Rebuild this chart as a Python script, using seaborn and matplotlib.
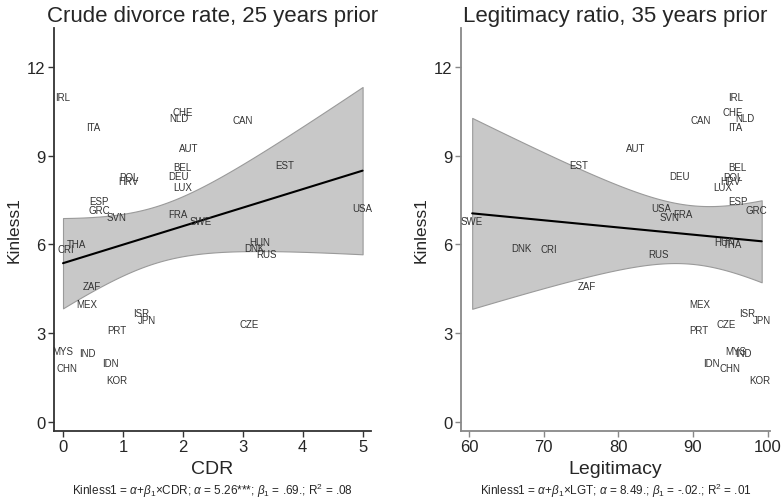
import numpy as np
import pandas as pd
import matplotlib
matplotlib.use("Agg")
import matplotlib.pyplot as plt
import seaborn as sns

sns.set_style("ticks")
plt.rcParams['font.family'] = ['Liberation Sans', 'DejaVu Sans']
plt.rcParams['mathtext.fontset'] = 'custom'
plt.rcParams['mathtext.rm'] = 'Liberation Sans'
plt.rcParams['mathtext.it'] = 'Liberation Sans:italic'

NARROW = ['Liberation Sans Narrow', 'Liberation Sans', 'DejaVu Sans']

# country codes
countries = ['IRL', 'ITA', 'CHE', 'NLD', 'CAN', 'AUT', 'BEL', 'DEU', 'POL', 'HRV',
             'LUX', 'EST', 'ESP', 'GRC', 'SVN', 'FRA', 'SWE', 'USA', 'HUN', 'DNK',
             'RUS', 'THA', 'CRI', 'ZAF', 'MEX', 'ISR', 'JPN', 'PRT', 'CZE', 'MYS',
             'IND', 'CHN', 'IDN', 'KOR']

kinless = [10.98, 9.97, 10.47, 10.27, 10.2, 9.26, 8.6, 8.31, 8.28, 8.14,
           7.94, 8.68, 7.47, 7.16, 6.93, 7.03, 6.79, 7.23, 6.08, 5.88,
           5.68, 6.0, 5.85, 4.6, 3.99, 3.68, 3.45, 3.11, 3.31, 2.4,
           2.33, 1.82, 1.99, 1.42]

cdr = [0.0, 0.5, 2.0, 1.93, 3.0, 2.1, 2.0, 1.92, 1.1, 1.1,
       2.0, 3.7, 0.6, 0.6, 0.9, 1.92, 2.3, 5.0, 3.28, 3.19,
       3.4, 0.23, 0.05, 0.48, 0.4, 1.3, 1.4, 0.9, 3.1, 0.0,
       0.4, 0.07, 0.79, 0.9]

legitimacy = [95.7, 95.7, 95.3, 96.9, 91.0, 82.3, 95.9, 88.2, 95.3, 95.0,
              94.0, 74.7, 96.0, 98.5, 86.9, 88.6, 60.4, 85.8, 94.2, 67.0,
              85.4, 95.3, 70.7, 75.8, 90.9, 97.3, 99.2, 90.8, 94.4, 95.7,
              96.7, 95.0, 92.5, 98.9]

df = pd.DataFrame({'country': countries, 'Kinless1': kinless,
                   'CDR': cdr, 'Legitimacy': legitimacy})


def fit_band(x, y, grid):
    """OLS fit with 95% confidence band for the mean (like Stata lfitci)"""
    x = np.asarray(x, float)
    y = np.asarray(y, float)
    n = len(x)
    b1, b0 = np.polyfit(x, y, 1)
    resid = y - (b0 + b1 * x)
    s = np.sqrt(np.sum(resid ** 2) / (n - 2))
    sxx = np.sum((x - x.mean()) ** 2)
    se = s * np.sqrt(1.0 / n + (grid - x.mean()) ** 2 / sxx)
    t = 2.037  # t(0.975, 32)
    yhat = b0 + b1 * grid
    return yhat - t * se, yhat + t * se


fig = plt.figure(figsize=(7.84, 5.02), dpi=100)
ax1 = fig.add_axes([0.0689, 0.1394, 0.4043, 0.803])
ax2 = fig.add_axes([0.588, 0.1394, 0.394, 0.803])

panels = [
    (ax1, 'CDR', 'Crude divorce rate, 25 years prior', (-0.15, 5.14), [0, 1, 2, 3, 4, 5], '#333333',
     r'Kinless1 = $\alpha$+$\beta_1$×CDR; $\alpha$ = 5.26***; $\beta_1$ = .69.; R$^2$ = .08'),
    (ax2, 'Legitimacy', 'Legitimacy ratio, 35 years prior', (58.9, 100.3), [60, 70, 80, 90, 100], '#888888',
     r'Kinless1 = $\alpha$+$\beta_1$×LGT; $\alpha$ = 8.49.; $\beta_1$ = -.02.; R$^2$ = .01'),
]

for ax, xcol, title, xlim, xticks, spc, caption in panels:
    grid = np.linspace(df[xcol].min(), df[xcol].max(), 100)
    lo, hi = fit_band(df[xcol], df['Kinless1'], grid)
    ax.fill_between(grid, lo, hi, facecolor='#c8c8c8', edgecolor='#9a9a9a', lw=0.8, zorder=1)
    sns.regplot(data=df, x=xcol, y='Kinless1', ax=ax, scatter=False, ci=None,
                line_kws={'color': 'black', 'lw': 1.5, 'zorder': 3})
    for _, row in df.iterrows():
        ax.text(row[xcol], row['Kinless1'], row['country'], ha='center', va='center',
                fontsize=7, color='#333333', zorder=4)
    ax.set_xlim(*xlim)
    ax.set_ylim(-0.3, 13.31)
    ax.set_xticks(xticks)
    ax.set_yticks([0, 3, 6, 9, 12])
    ax.set_title(title, fontsize=16, pad=5)
    ax.set_xlabel(xcol, fontsize=14, labelpad=4, family=NARROW)
    ax.set_ylabel('Kinless1', fontsize=12.5, labelpad=4)
    ax.tick_params(labelsize=12, length=4, width=1, pad=2, color=spc)
    for lab in ax.get_xticklabels():
        lab.set_family(NARROW)
    for s in ['left', 'bottom']:
        ax.spines[s].set_color(spc)
        ax.spines[s].set_linewidth(1.3)
    sns.despine(ax=ax)
    ax.text(0.5, -0.146, caption, transform=ax.transAxes, ha='center', va='center',
            fontsize=8.5, family=NARROW)

fig.savefig('out.png', dpi=100)
